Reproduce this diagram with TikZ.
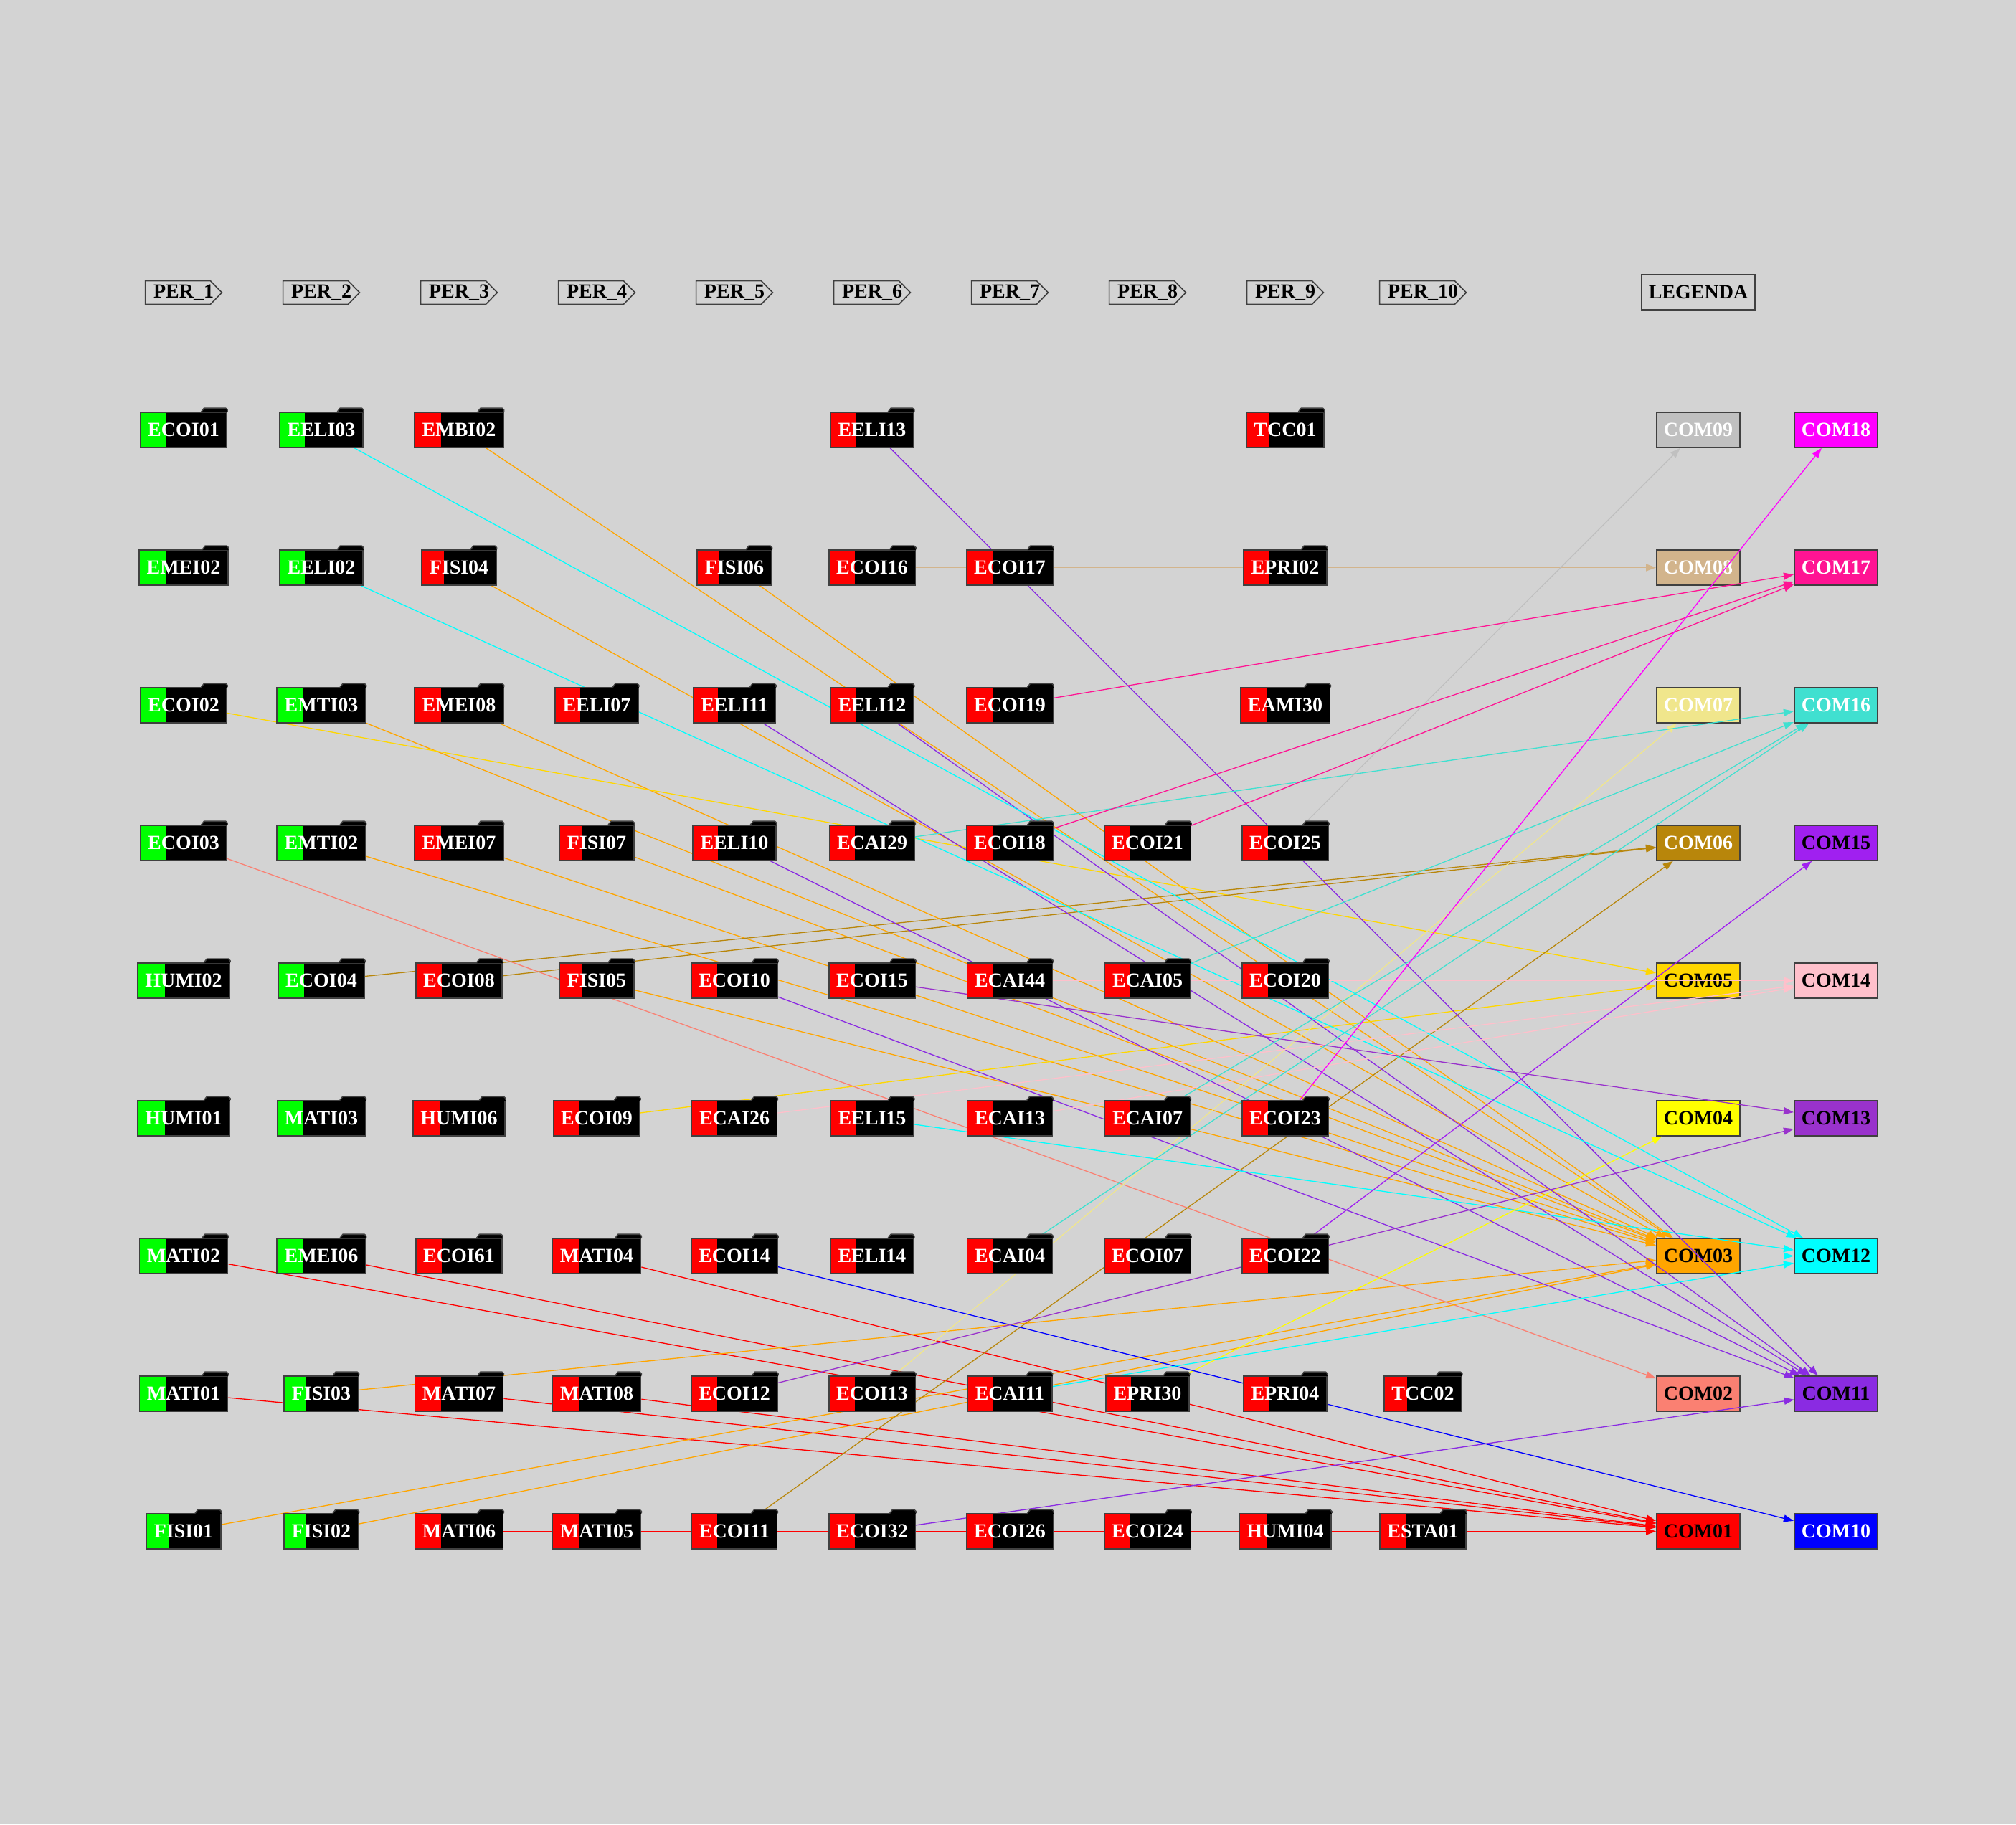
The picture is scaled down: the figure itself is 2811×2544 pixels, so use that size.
\documentclass[tikz,border=0pt]{standalone}
\usepackage{fontspec}
\setmainfont{Liberation Serif}
\usetikzlibrary{arrows.meta,calc}

\pgfdeclarelayer{canvas}
\pgfdeclarelayer{legend}
\pgfdeclarelayer{links}
\pgfsetlayers{canvas,legend,links,main}

\definecolor{bgray}{HTML}{D3D3D3}
\definecolor{frame}{HTML}{404040}
\definecolor{sgreen}{HTML}{00FF00}
\definecolor{sred}{HTML}{FF0000}
% competence colours
\definecolor{c01}{HTML}{FF0000}
\definecolor{c02}{HTML}{FA8072}
\definecolor{c03}{HTML}{FFA500}
\definecolor{c04}{HTML}{FFFF00}
\definecolor{c05}{HTML}{FFD700}
\definecolor{c06}{HTML}{B8860B}
\definecolor{c07}{HTML}{F0E68C}
\definecolor{c08}{HTML}{D2B48C}
\definecolor{c09}{HTML}{C0C0C0}
\definecolor{c10}{HTML}{0000FF}
\definecolor{c11}{HTML}{8A2BE2}
\definecolor{c12}{HTML}{00FFFF}
\definecolor{c13}{HTML}{9932CC}
\definecolor{c14}{HTML}{FFC0CB}
\definecolor{c15}{HTML}{A020F0}
\definecolor{c16}{HTML}{40E0D0}
\definecolor{c17}{HTML}{FF1493}
\definecolor{c18}{HTML}{FF00FF}

\tikzset{
  lbl/.style={font=\bfseries\fontsize{14}{16}\selectfont},
  course/.style={lbl, draw=frame, line width=0.8pt, fill=black, text=white,
    minimum height=24.5pt, inner xsep=5.25pt, inner ysep=0pt,
    path picture={\fill[#1] (path picture bounding box.south west) rectangle
      ($(path picture bounding box.north west)!0.3!(path picture bounding box.north east)$);}},
  compbox/.style={lbl, draw=frame, line width=0.8pt, fill=#1,
    minimum height=24.5pt, inner xsep=5pt, inner ysep=0pt},
  period/.style={lbl, minimum height=16pt, inner xsep=5.5pt, inner ysep=0pt},
  link/.style={draw=#1, line width=0.65pt, -{Triangle[length=7pt,width=5pt]}},
}

% course node in column #2, row #3 with left stripe colour #4, plus its folder tab
\newcommand{\coursebox}[4]{%
  \node[course=#4] (#1) at ({256+192*(#2-1)},{599.5+192*(#3-1)}) {#1};
  \fill[black] ([xshift=-18.2pt,yshift=-0.5pt]#1.north east)
    -- ([xshift=-16.3pt,yshift=2.5pt]#1.north east)
    -- ([xshift=-1.2pt,yshift=2.5pt]#1.north east)
    -- ([yshift=1.3pt]#1.north east)
    -- ([yshift=-0.5pt]#1.north east) -- cycle;
  \draw[frame, line width=0.8pt, line join=round]
    ([xshift=-18.2pt]#1.north east)
    -- ([xshift=-16.3pt,yshift=2.5pt]#1.north east)
    -- ([xshift=-1.2pt,yshift=2.5pt]#1.north east)
    -- ([yshift=1.3pt]#1.north east)
    -- (#1.north east);
}
% period header (name #1, column #2, text #3) with an arrow point on the right
\newcommand{\periodbox}[3]{%
  \node[period] (#1) at ({256+192*(#2-1)},408) {#3};
  \draw[frame, line width=0.8pt, line join=miter]
    (#1.north west) -- ([xshift=-8pt]#1.north east) -- (#1.east)
    -- ([xshift=-8pt]#1.south east) -- (#1.south west) -- cycle;
}

\begin{document}
\begin{tikzpicture}[x=0.5pt,y=-0.5pt]
\begin{pgfonlayer}{canvas}
  \fill[bgray] (0,0) rectangle (2811,2544);
\end{pgfonlayer}
\useasboundingbox (0,0) rectangle (2811,2544);

% period headers
\periodbox{per1}{1}{PER\_1}
\periodbox{per2}{2}{PER\_2}
\periodbox{per3}{3}{PER\_3}
\periodbox{per4}{4}{PER\_4}
\periodbox{per5}{5}{PER\_5}
\periodbox{per6}{6}{PER\_6}
\periodbox{per7}{7}{PER\_7}
\periodbox{per8}{8}{PER\_8}
\periodbox{per9}{9}{PER\_9}
\periodbox{per10}{10}{PER\_10}
\node[compbox=bgray] (legenda) at (2368,407.5) {LEGENDA};

% courses
\coursebox{ECOI01}{1}{1}{sgreen}
\coursebox{EELI03}{2}{1}{sgreen}
\coursebox{EMBI02}{3}{1}{sred}
\coursebox{EELI13}{6}{1}{sred}
\coursebox{TCC01}{9}{1}{sred}

\coursebox{EMEI02}{1}{2}{sgreen}
\coursebox{EELI02}{2}{2}{sgreen}
\coursebox{FISI04}{3}{2}{sred}
\coursebox{FISI06}{5}{2}{sred}
\coursebox{ECOI16}{6}{2}{sred}
\coursebox{ECOI17}{7}{2}{sred}
\coursebox{EPRI02}{9}{2}{sred}

\coursebox{ECOI02}{1}{3}{sgreen}
\coursebox{EMTI03}{2}{3}{sgreen}
\coursebox{EMEI08}{3}{3}{sred}
\coursebox{EELI07}{4}{3}{sred}
\coursebox{EELI11}{5}{3}{sred}
\coursebox{EELI12}{6}{3}{sred}
\coursebox{ECOI19}{7}{3}{sred}
\coursebox{EAMI30}{9}{3}{sred}

\coursebox{ECOI03}{1}{4}{sgreen}
\coursebox{EMTI02}{2}{4}{sgreen}
\coursebox{EMEI07}{3}{4}{sred}
\coursebox{FISI07}{4}{4}{sred}
\coursebox{EELI10}{5}{4}{sred}
\coursebox{ECAI29}{6}{4}{sred}
\coursebox{ECOI18}{7}{4}{sred}
\coursebox{ECOI21}{8}{4}{sred}
\coursebox{ECOI25}{9}{4}{sred}

\coursebox{HUMI02}{1}{5}{sgreen}
\coursebox{ECOI04}{2}{5}{sgreen}
\coursebox{ECOI08}{3}{5}{sred}
\coursebox{FISI05}{4}{5}{sred}
\coursebox{ECOI10}{5}{5}{sred}
\coursebox{ECOI15}{6}{5}{sred}
\coursebox{ECAI44}{7}{5}{sred}
\coursebox{ECAI05}{8}{5}{sred}
\coursebox{ECOI20}{9}{5}{sred}

\coursebox{HUMI01}{1}{6}{sgreen}
\coursebox{MATI03}{2}{6}{sgreen}
\coursebox{HUMI06}{3}{6}{sred}
\coursebox{ECOI09}{4}{6}{sred}
\coursebox{ECAI26}{5}{6}{sred}
\coursebox{EELI15}{6}{6}{sred}
\coursebox{ECAI13}{7}{6}{sred}
\coursebox{ECAI07}{8}{6}{sred}
\coursebox{ECOI23}{9}{6}{sred}

\coursebox{MATI02}{1}{7}{sgreen}
\coursebox{EMEI06}{2}{7}{sgreen}
\coursebox{ECOI61}{3}{7}{sred}
\coursebox{MATI04}{4}{7}{sred}
\coursebox{ECOI14}{5}{7}{sred}
\coursebox{EELI14}{6}{7}{sred}
\coursebox{ECAI04}{7}{7}{sred}
\coursebox{ECOI07}{8}{7}{sred}
\coursebox{ECOI22}{9}{7}{sred}

\coursebox{MATI01}{1}{8}{sgreen}
\coursebox{FISI03}{2}{8}{sgreen}
\coursebox{MATI07}{3}{8}{sred}
\coursebox{MATI08}{4}{8}{sred}
\coursebox{ECOI12}{5}{8}{sred}
\coursebox{ECOI13}{6}{8}{sred}
\coursebox{ECAI11}{7}{8}{sred}
\coursebox{EPRI30}{8}{8}{sred}
\coursebox{EPRI04}{9}{8}{sred}
\coursebox{TCC02}{10}{8}{sred}

\coursebox{FISI01}{1}{9}{sgreen}
\coursebox{FISI02}{2}{9}{sgreen}
\coursebox{MATI06}{3}{9}{sred}
\coursebox{MATI05}{4}{9}{sred}
\coursebox{ECOI11}{5}{9}{sred}
\coursebox{ECOI32}{6}{9}{sred}
\coursebox{ECOI26}{7}{9}{sred}
\coursebox{ECOI24}{8}{9}{sred}
\coursebox{HUMI04}{9}{9}{sred}
\coursebox{ESTA01}{10}{9}{sred}

% competences (legend), kept beneath the links
\begin{pgfonlayer}{legend}
\node[compbox=c09, text=white] (COM09) at (2368,599.5) {COM09};
\node[compbox=c08, text=white] (COM08) at (2368,791.5) {COM08};
\node[compbox=c07, text=white] (COM07) at (2368,983.5) {COM07};
\node[compbox=c06, text=white] (COM06) at (2368,1175.5) {COM06};
\node[compbox=c05, text=black] (COM05) at (2368,1367.5) {COM05};
\node[compbox=c04, text=black] (COM04) at (2368,1559.5) {COM04};
\node[compbox=c03, text=black] (COM03) at (2368,1751.5) {COM03};
\node[compbox=c02, text=black] (COM02) at (2368,1943.5) {COM02};
\node[compbox=c01, text=black] (COM01) at (2368,2135.5) {COM01};
\node[compbox=c18, text=white] (COM18) at (2560,599.5) {COM18};
\node[compbox=c17, text=white] (COM17) at (2560,791.5) {COM17};
\node[compbox=c16, text=white] (COM16) at (2560,983.5) {COM16};
\node[compbox=c15, text=black] (COM15) at (2560,1175.5) {COM15};
\node[compbox=c14, text=black] (COM14) at (2560,1367.5) {COM14};
\node[compbox=c13, text=black] (COM13) at (2560,1559.5) {COM13};
\node[compbox=c12, text=black] (COM12) at (2560,1751.5) {COM12};
\node[compbox=c11, text=black] (COM11) at (2560,1943.5) {COM11};
\node[compbox=c10, text=white] (COM10) at (2560,2135.5) {COM10};
\end{pgfonlayer}

% course -> competence links
\begin{pgfonlayer}{links}
  \foreach \s in {MATI06,MATI02,EMEI06,MATI04,MATI01,MATI07,MATI08}
    \draw[link=c01] (\s) -- (COM01);
  \draw[link=c02] (ECOI03) -- (COM02);
  \foreach \s in {EMBI02,FISI04,FISI06,EMTI03,EMEI08,EMTI02,EMEI07,FISI07,FISI05,FISI03,FISI01,FISI02}
    \draw[link=c03] (\s) -- (COM03);
  \draw[link=c04] (EPRI30) -- (COM04);
  \foreach \s in {ECOI02,ECOI09}
    \draw[link=c05] (\s) -- (COM05);
  \foreach \s in {ECOI04,ECOI08,ECOI11}
    \draw[link=c06] (\s) -- (COM06);
  \draw[link=c07] (ECOI13) -- (COM07);
  \draw[link=c08] (ECOI16) -- (COM08);
  \draw[link=c09] (ECOI25) -- (COM09);
  \draw[link=c10] (ECOI14) -- (COM10);
  \foreach \s in {EELI13,EELI11,EELI12,EELI10,ECOI10,ECOI32}
    \draw[link=c11] (\s) -- (COM11);
  \foreach \s in {EELI03,EELI02,EELI15,EELI14,ECAI11}
    \draw[link=c12] (\s) -- (COM12);
  \foreach \s in {ECOI15,ECOI12}
    \draw[link=c13] (\s) -- (COM13);
  \foreach \s in {ECAI44,ECAI26,ECAI13}
    \draw[link=c14] (\s) -- (COM14);
  \draw[link=c15] (ECOI22) -- (COM15);
  \foreach \s in {ECAI29,ECAI05,ECAI07,ECAI04}
    \draw[link=c16] (\s) -- (COM16);
  \foreach \s in {ECOI19,ECOI18,ECOI21}
    \draw[link=c17] (\s) -- (COM17);
  \draw[link=c18] (ECOI23) -- (COM18);
\end{pgfonlayer}
\end{tikzpicture}
\end{document}
